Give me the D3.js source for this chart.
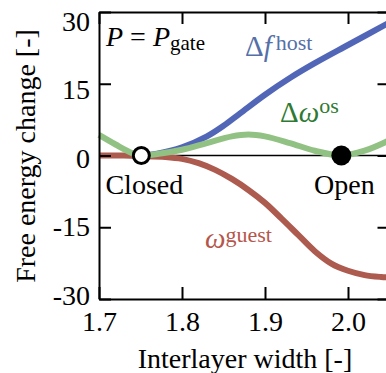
<!DOCTYPE html>
<html>
<head>
<meta charset="utf-8">
<script src="https://cdn.jsdelivr.net/npm/d3@7"></script>
<style>
  body { margin: 0; background: #fff; }
  svg text, svg tspan { font-family: "Liberation Serif", serif; }
</style>
</head>
<body>
<div id="chart"></div>
<script>
// interlayer width ticks and energy ticks
var xTicks = [1.7, 1.8, 1.9, 2.0];
var yTicks = [-30, -15, 0, 15, 30];

// Δω^os (green)
var osX = [1.70, 1.72, 1.74, 1.751, 1.77, 1.80, 1.83, 1.86, 1.88, 1.90, 1.93, 1.96, 1.992, 2.02, 2.05];
var osY = [4.3, 2.3, 0.5, 0, 0.3, 1.2, 2.6, 4.0, 4.4, 4.0, 2.6, 1.0, 0, 1.0, 3.2];

// Δf^host (blue)
var hostX = [1.751, 1.77, 1.80, 1.83, 1.85, 1.87, 1.90, 1.93, 1.96, 2.00, 2.05];
var hostY = [0, 0.4, 1.7, 4.0, 6.2, 8.8, 12.7, 16.2, 19.3, 23.1, 27.8];

// ω^guest (red)
var guestX = [1.70, 1.73, 1.751, 1.78, 1.80, 1.82, 1.84, 1.86, 1.88, 1.90, 1.92, 1.94, 1.96, 1.98, 2.00, 2.02, 2.04, 2.05];
var guestY = [0, 0, -0.1, -0.3, -0.7, -1.6, -3.0, -4.9, -7.2, -9.9, -13.2, -16.6, -20.0, -22.6, -24.1, -25.0, -25.4, -25.5];

// states
var stateNames = ["Closed", "Open"];
var stateX = [1.751, 1.992];

(function () {
    var width = 386, height = 373;
    var mLeft = 99, mTop = 12, mBottom = 299;
    var fs = 28, fsSup = 21;

    var x = d3.scaleLinear().domain([1.7, 2.05]).range([mLeft, 389.5]);
    var y = d3.scaleLinear().domain([-30, 30]).range([mBottom, mTop]);
    // tick labels sit slightly inside the tick positions in the original
    var yLab = d3.scaleLinear().domain([-30, 30]).range([304, 30]);

    var svg = d3.select("#chart").append("svg")
        .attr("width", width)
        .attr("height", height)
        .attr("font-family", "Liberation Serif");

    // zero line
    svg.append("line")
        .attr("x1", x(1.7)).attr("x2", x(2.05))
        .attr("y1", y(0)).attr("y2", y(0))
        .attr("stroke", "#000")
        .attr("stroke-width", 1.5);

    function pts(xs, ys) {
        return xs.map(function (d, i) { return [d, ys[i]]; });
    }

    var line = d3.line()
        .x(function (d) { return x(d[0]); })
        .y(function (d) { return y(d[1]); })
        .curve(d3.curveCatmullRom.alpha(0.5));

    var series = [
        { data: pts(guestX, guestY), color: "#ad5a4f" },
        { data: pts(hostX, hostY), color: "#5266b8" },
        { data: pts(osX, osY), color: "#92c283" }
    ];

    svg.selectAll("path.curve")
        .data(series)
        .enter().append("path")
        .attr("class", "curve")
        .attr("d", function (d) { return line(d.data); })
        .attr("fill", "none")
        .attr("stroke", function (d) { return d.color; })
        .attr("stroke-width", 6);

    // axes (ticks point inward)
    var axB = svg.append("g")
        .attr("transform", "translate(0," + mBottom + ")")
        .call(d3.axisBottom(x).tickValues(xTicks).tickSizeInner(-12).tickSizeOuter(0).tickFormat(d3.format(".1f")));
    var axT = svg.append("g")
        .attr("transform", "translate(0," + mTop + ")")
        .call(d3.axisTop(x).tickValues(xTicks).tickSizeInner(-12).tickSizeOuter(0).tickFormat(""));
    var axL = svg.append("g")
        .attr("transform", "translate(" + mLeft + ",0)")
        .call(d3.axisLeft(y).tickValues(yTicks).tickSizeInner(-12).tickSizeOuter(0)
            .tickFormat(function (d) { return String(d); }));
    var axR = svg.append("g")
        .attr("transform", "translate(" + x(2.05) + ",0)")
        .call(d3.axisRight(y).tickValues(yTicks).tickSizeInner(-12).tickSizeOuter(0).tickFormat(""));

    [axB, axT, axL, axR].forEach(function (g) {
        g.select(".domain").attr("stroke-width", 2);
        g.selectAll(".tick line").attr("stroke-width", 2);
    });

    axB.selectAll(".tick text")
        .attr("y", 32).attr("dy", 0)
        .attr("font-size", fs)
        .attr("font-family", "Liberation Serif");
    axL.selectAll(".tick text")
        .attr("x", -9).attr("dy", 0)
        .attr("transform", function (d) { return "translate(0," + (yLab(d) - y(d)) + ")"; })
        .attr("font-size", fs)
        .attr("font-family", "Liberation Serif");

    // markers
    svg.selectAll("circle.state")
        .data(stateX)
        .enter().append("circle")
        .attr("class", "state")
        .attr("cx", function (d) { return x(d); })
        .attr("cy", y(0))
        .attr("r", function (d, i) { return i === 0 ? 8 : 10; })
        .attr("fill", function (d, i) { return i === 0 ? "#fff" : "#000"; })
        .attr("stroke", "#000")
        .attr("stroke-width", function (d, i) { return i === 0 ? 3 : 0; });

    svg.selectAll("text.state")
        .data(stateNames)
        .enter().append("text")
        .attr("class", "state")
        .attr("x", function (d, i) { return x(stateX[i]) + 3; })
        .attr("y", 194)
        .attr("text-anchor", "middle")
        .attr("font-size", fs)
        .text(function (d) { return d; });

    // P = P_gate
    var pt = svg.append("text").attr("x", 106).attr("y", 46).attr("font-size", fs);
    pt.append("tspan").attr("font-style", "italic").text("P");
    pt.append("tspan").text(" = ");
    pt.append("tspan").attr("font-style", "italic").text("P");
    pt.append("tspan").attr("font-size", fsSup).attr("dy", 4).text("gate");

    // series labels
    var lf = svg.append("text").attr("x", 245).attr("y", 56).attr("font-size", fs + 1).attr("fill", "#5570a8");
    lf.append("tspan").text("Δ");
    lf.append("tspan").attr("font-style", "italic").text("f");
    lf.append("tspan").attr("font-size", fsSup + 1).attr("dy", -6).attr("dx", 4).text("host");

    var lo = svg.append("text").attr("x", 280).attr("y", 122).attr("font-size", fs + 1).attr("fill", "#2f7a32");
    lo.append("tspan").text("Δ");
    lo.append("tspan").attr("font-style", "italic").text("ω");
    lo.append("tspan").attr("font-size", fsSup + 1).attr("dy", -9).text("os");

    var lg = svg.append("text").attr("x", 205).attr("y", 248).attr("font-size", fs + 1).attr("fill", "#b5564b");
    lg.append("tspan").attr("font-style", "italic").text("ω");
    lg.append("tspan").attr("font-size", fsSup + 1).attr("dy", -6).text("guest");

    // axis titles
    svg.append("text")
        .attr("x", 245).attr("y", 368)
        .attr("text-anchor", "middle")
        .attr("font-size", fs)
        .text("Interlayer width [-]");
    svg.append("text")
        .attr("transform", "translate(35,156) rotate(-90)")
        .attr("text-anchor", "middle")
        .attr("font-size", fs)
        .text("Free energy change [-]");
})();
</script>
</body>
</html>
